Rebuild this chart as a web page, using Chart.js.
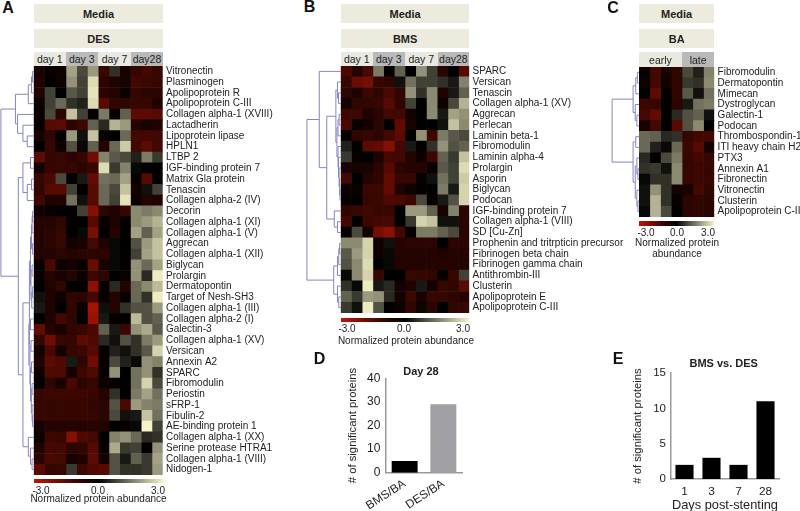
<!DOCTYPE html>
<html><head><meta charset="utf-8">
<script src="https://cdn.jsdelivr.net/npm/chart.js@4"></script>
<style>
html,body{margin:0;padding:0;background:#fff;width:800px;height:511px;overflow:hidden;font-family:"Liberation Sans",Arial,sans-serif;color:#222}
canvas{position:absolute}
.t{position:absolute;white-space:nowrap;transform:translate(-50%,-50%);line-height:1}
.b{position:absolute;display:flex;align-items:center;justify-content:center}
</style></head><body>
<script>
const labelsA=["Vitronectin","Plasminogen","Apolipoprotein R","Apolipoprotein C-III","Collagen alpha-1 (XVIII)","Lactadherin","Lipoprotein lipase","HPLN1","LTBP 2","IGF-binding protein 7","Matrix Gla protein","Tenascin","Collagen alpha-2 (IV)","Decorin","Collagen alpha-1 (XI)","Collagen alpha-1 (V)","Aggrecan","Collagen alpha-1 (XII)","Biglycan","Prolargin","Dermatopontin","Target of Nesh-SH3","Collagen alpha-1 (III)","Collagen alpha-2 (I)","Galectin-3","Collagen alpha-1 (XV)","Versican","Annexin A2","SPARC","Fibromodulin","Periostin","sFRP-1","Fibulin-2","AE-binding protein 1","Collagen alpha-1 (XX)","Serine protease HTRA1","Collagen alpha-1 (VIII)","Nidogen-1"];
const heatA=[
[-.5,-.2,-.3,2,.9,1.9,-1,.6,-.5,-1,-1.2,-1],
[-.6,0,-.3,1.8,.8,2.7,-.8,-.6,-.5,-1.2,-1.1,-1],
[-.6,.8,0,1.1,.8,2.8,-.8,-.7,-.3,-1,-.8,-.8],
[-.2,.8,1.3,.6,.4,2.7,-1.5,-.9,-.9,-1,-1,-.6],
[-.2,.9,-.8,2.4,.8,-.1,1.5,-.2,1.2,-1.6,-1.6,-1.5],
[-.1,-1.5,-1.6,-.8,-1.1,1.2,.5,2.2,1.9,-.7,-.5,-.6],
[-.5,-.9,-.1,1.9,.2,2.4,-.2,0,1.3,-1.2,-1.2,-1.2],
[0,-1,-.3,1,.1,1.2,-.7,1.3,2.5,-1.2,-1.6,-1.2],
[-1.6,-1,-1,-.8,-1,-1.9,1.6,1.1,.9,.4,1.5,.7],
[-.4,-1,-1,-1,-.8,-1,2.7,.7,1.6,.1,0,0],
[-1,-1.3,.9,-.1,.3,-1.7,1.4,1.3,2,-.2,-1.5,0],
[-.9,-1.5,-1.5,.8,-.1,-1.5,1.3,.9,2.4,-.4,.2,.8],
[-1.1,-.6,-.6,1.4,.2,-1.5,1.3,.8,2.8,-.3,-.7,-.6],
[-.3,-.2,0,-.1,.8,-2.2,-.8,-.6,-1,1.7,1.5,1.7],
[-.7,-.7,-.9,-.1,0,-1.5,-.2,-.6,-.1,1.7,1.9,2.2],
[-.7,-.8,-1,0,.1,-2,0,-.7,0,2,1.2,2],
[-.7,-.8,-1,-.4,-.5,-1.2,-.6,.1,0,1,1.9,2.4],
[-.7,-.7,-.8,-.7,-.8,-.8,-.8,.1,-.1,.8,2,2.4],
[-.2,-1.3,-.3,-.4,-.2,-1.8,-.5,.1,-.1,1.8,1.3,2],
[-.2,-.7,-.5,-.7,-.3,-1.1,-.8,0,-.2,1.8,.5,2.9],
[-.1,-.6,-.9,0,0,-2.3,-.2,.5,-.7,1.3,1.7,2.3],
[.2,-.6,-.3,-.9,-.8,-1.2,-.2,-.7,-.2,1.3,.6,2.9],
[.3,-.6,0,-.9,-.2,-2.6,.2,-.7,.6,1,1,1.9],
[0,-.6,-1.2,-.9,0,-2.5,.3,-.1,0,2.3,1,1.2],
[-1.7,-.7,-.5,-.9,-1,-1.3,1.2,.3,-1.1,1.8,2.1,1.1],
[-.9,-1.9,-1,-1,-1.6,-1.4,.5,.2,1,.6,1.5,1.9],
[-.4,-1.3,-.4,-1,-1.1,-1.5,-.1,.4,.2,.6,1.1,2.6],
[-.6,-1.6,-1.4,.3,-.9,-1.9,-.1,.9,.4,.1,1.8,1.6],
[-.3,-1.4,-1.4,-.4,-1.1,-1.4,-.2,1.8,0,1.4,1.8,.6],
[-.1,-.9,-.5,-1.3,-.8,-1,-.3,-.2,-.1,1.4,2.6,.9],
[-1,-1.1,-1.1,-1.1,-1.1,-1,-.7,.6,0,1.5,2,1.4],
[-1,-1,-1,-1,-1,-.9,-.8,1,-1.3,1.9,1.6,1.5],
[-1,-1,-1,-1,-1,-1,-.8,.9,.2,.3,2.4,1.4],
[-.5,-.7,-.7,-.7,-.7,-.7,-.7,0,-.2,.1,3,.8],
[-.3,-1.1,-1,-2.2,-1.4,-1.2,-.1,1.6,1.8,1.3,.5,.6],
[-.6,-1.2,-1.2,-.8,-.9,-1.5,-.2,2.1,.7,.8,-.1,1.8],
[-.8,-1.3,-1.2,-.5,-.6,-1.6,-.4,1,.3,1.2,.7,2],
[-1.5,-1,-1,.7,-1.1,-1.4,-1.5,1,.6,.6,.7,1.9]];
const treeA=[3.05,
 [1.7,[.5,[.2,[.1,0,1],2],3],[1.5,4,[1,5,[.6,6,7]]]],
 [1.43,[1,[.3,8,9],[.6,[.2,10,11],12]],
  [1,[.4,[.3,[.2,[.15,[.1,13,14],15],[.1,16,17]],[.25,[.15,18,19],[.18,[.1,20,21],22]]],
     [.45,[.3,23,24],[.35,[.25,25,26],[.3,[.2,27,28],[.22,[.15,29,30],[.15,31,[.1,32,33]]]]]]],
   [.5,34,[.3,35,[.15,36,37]]]]]];
const labelsB=["SPARC","Versican","Tenascin","Collagen alpha-1 (XV)","Aggrecan","Perlecan","Laminin beta-1","Fibromodulin","Laminin alpha-4","Prolargin","Asporin","Biglycan","Podocan","IGF-binding protein 7","Collagen alpha-1 (VIII)","SD [Cu-Zn]","Prophenin and tritrpticin precursor","Fibrinogen beta chain","Fibrinogen gamma chain","Antithrombin-III","Clusterin","Apolipoprotein E","Apolipoprotein C-III"];
const heatB=[
[-1.3,-.7,-1.3,1.5,0,1.2,0,1.8,.8,-.8,0,-1.5],
[-1,-1.8,-2,-1,-.9,.2,1.4,.8,.8,.6,.3,1.6],
[-.8,-.6,-1.1,-.9,-1.3,-.9,1.8,.6,1.7,-.6,.3,1.2],
[-.4,-.9,-.9,-1,-1.5,-.9,.8,0,1.7,-.3,.9,2.2],
[-1.1,-1.1,-.6,-.8,-1.2,-1.2,-.4,0,1.7,.3,2,1.8],
[-1.3,-.2,-.4,-.8,-.1,-1.7,-.5,-.1,0,.2,2.4,1.7],
[-.1,-.9,-1,-.8,-1.2,-1.6,0,1.8,-1.1,1.5,1.1,.9],
[.4,-.1,-1.6,-1.7,-2.2,-1.2,.3,-.1,.6,1.8,1,1.2],
[.7,-.2,0,-.6,-1.2,-1.2,-.7,-.3,-1.1,1.2,.7,2.4],
[-.5,-.5,-.5,-.8,-1.5,-.8,-.7,-.7,-.2,1.1,.8,2.7],
[-1.2,0,-.7,-.9,-1.7,-1,-1,-.2,.2,1.4,.8,2.5],
[-.3,-.2,-1.1,-1.1,-1.7,-.6,-.3,-.1,0,1.5,.3,2.6],
[-.2,-.1,-1,-1.1,-1.4,-1.3,-1.1,.9,-.2,.3,1,2.6],
[-.9,-1,-1.2,-1,-1,0,1.9,1.9,1.2,-.5,1.6,-.8],
[-1.2,-.1,-1.1,-1.2,-1.2,0,.7,2.6,2.4,.2,.2,-.8],
[0,.9,-.4,-2,-2.3,-1.2,-.1,1.5,1.5,1.2,.9,-.8],
[1.7,1.7,2.6,-.3,.2,-.7,-.8,-.8,-.8,0,-.8,-.8],
[1.1,1.9,2.6,-.3,.1,-.7,-.7,-.7,-.7,-.6,-.7,-.7],
[1,1.7,2.7,0,.1,-.7,-.7,-.7,-.7,-.7,-.7,-.7],
[.1,1.7,2.6,-1,0,0,-1,-1,-.9,-.2,-1,.8],
[.6,.1,2.9,.3,.5,-.4,-.6,.3,-.4,-1,-.9,-1.6],
[1.2,.7,1.9,1.8,.5,-.4,-1.1,-.5,-1,-1,-.8,-.7],
[.7,.2,2.9,1,0,-.3,-.9,-.3,-.8,-.1,-.9,-1]];
const treeB=[3.15,
 [2,0,[1.3,[.45,[.3,1,[.2,2,3]],[.35,[.25,[.15,4,5],6],[.25,7,[.2,8,[.15,9,[.1,10,[.06,11,12]]]]]]],[.6,13,[.3,14,15]]]],
 [.65,[.3,[.18,[.1,16,17],18],19],[.3,20,[.18,21,22]]]];
const labelsC=["Fibromodulin","Dermatopontin","Mimecan","Dystroglycan","Galectin-1","Podocan","Thrombospondin-1","ITI heavy chain H2","PTX3","Annexin A1","Fibronectin","Vitronectin","Clusterin","Apolipoprotein C-III"];
const heatC=[
[-.2,-1.2,-.5,-.9,.9,.4,1.6],
[-.3,-1.2,-.4,-.9,.7,.6,1.7],
[0,-1.6,-.1,-.9,1.1,.2,1.4],
[-1.1,-1,-.1,-.8,.3,1.4,1.5],
[-1.2,-1.7,-.1,.5,1,1.2,.2],
[-.5,-1.2,0,-1.5,1,1.7,0],
[1.3,1.2,.5,.6,-1,-1.2,-1.2],
[1.3,.4,.1,1.3,-1.1,-1.5,-.4],
[.5,0,.9,1.5,-1,-1.2,-1],
[.6,.7,.2,1.7,-1,-1.1,-1],
[.1,.6,.6,1.7,-1,-1.1,-1],
[.2,1.8,.6,-.4,-.5,-1.2,-.9],
[.2,2.2,.6,-.2,-.8,-.9,-.8],
[.1,2.2,.9,0,-.8,-.9,-.8]];
const treeC=[2.5,
 [.55,[.3,[.15,0,1],2],[.35,3,[.2,4,5]]],
 [.55,[.3,6,7],[.35,[.2,8,[.1,9,10]],[.2,11,[.1,12,13]]]]];
const catD=["BMS/BA","DES/BA"], valD=[5,29], tickStepD=10, maxD=40;
const catE=["1","3","7","28"], valE=[2,3,2,11], tickStepE=5, maxE=15;
const colNeg=[190,22,4], colPos=[245,243,200];

function heatColor(v){
  const c=v<0?colNeg:colPos, f=Math.min(1,Math.abs(v)/3), g=v<0?Math.pow(f,1.15):f;
  return `rgb(${c.map(x=>Math.round(x*g)).join(",")})`;
}
function addCanvas(l,t,w,h){
  const c=document.createElement("canvas");
  c.width=w;c.height=h;c.style.left=l+"px";c.style.top=t+"px";c.style.width=w+"px";c.style.height=h+"px";
  document.body.appendChild(c);return c.getContext("2d");
}
function txt(s,x,y,size,bold,color){
  const d=document.createElement("div");d.className="t";d.textContent=s;
  d.style.cssText=`left:${x}px;top:${y}px;font-size:${size}px;font-weight:${bold?"bold":"normal"};color:${color||"#222"}`;
  document.body.appendChild(d);
}
function band(x0,x1,y0,y1,bg,s,size,bold){
  const d=document.createElement("div");d.className="b";d.textContent=s;
  d.style.cssText=`left:${x0}px;top:${y0}px;width:${x1-x0}px;height:${y1-y0}px;background:${bg};font-size:${size}px;font-weight:${bold?"bold":"normal"}`;
  document.body.appendChild(d);
}
const dendroPlugin={id:"dendro",afterDatasetsDraw(chart,args,o){
  const {ctx,scales:{x,y}}=chart;
  const px=h=>x.getPixelForValue(0)-h*(x.getPixelForValue(1)-x.getPixelForValue(0));
  ctx.save();ctx.strokeStyle="#8585c4";ctx.lineWidth=1;
  const line=(a,b,c,d)=>{ctx.beginPath();ctx.moveTo(a,b);ctx.lineTo(c,d);ctx.stroke();};
  const walk=n=>{
    if(typeof n==="number")return{h:0,py:y.getPixelForValue(n)};
    const a=walk(n[1]),b=walk(n[2]),X=px(n[0]);
    line(X,a.py,X,b.py);line(X,a.py,px(a.h),a.py);line(X,b.py,px(b.h),b.py);
    return{h:n[0],py:(a.py+b.py)/2};
  };
  walk(o.tree);ctx.restore();
}};
function heatmap(cfg){
  const cols=cfg.heat[0].length;
  const datasets=[];
  for(let c=0;c<cols;c++)datasets.push({data:cfg.heat.map(()=>1),backgroundColor:cfg.heat.map(r=>heatColor(r[c])),borderWidth:0,barPercentage:1,categoryPercentage:1});
  new Chart(addCanvas(cfg.left,0,cfg.width,511),{type:"bar",plugins:[dendroPlugin],
    data:{labels:cfg.labels,datasets},
    options:{indexAxis:"y",responsive:false,animation:false,devicePixelRatio:1,
      layout:{padding:{left:cfg.x0-cfg.left,top:cfg.y0,bottom:511-cfg.y1,right:0}},
      plugins:{legend:{display:false},tooltip:{enabled:false},dendro:{tree:cfg.tree}},
      scales:{
        x:{display:false,stacked:true,min:0,max:cols},
        y:{stacked:true,position:"right",grid:{display:false,drawTicks:false,tickLength:0},border:{display:false},
           afterFit:s=>{s.width=cfg.left+cfg.width-cfg.x1;},
           ticks:{autoSkip:false,padding:3.3,font:{family:"Liberation Sans",size:cfg.fs},color:"#222"}}}}});
}
function barChart(cfg){
  const ax={display:false,drawTicks:true,tickLength:4,tickColor:"#999",tickWidth:1.5};
  new Chart(addCanvas(cfg.left,cfg.top,cfg.width,cfg.height),{type:"bar",
    data:{labels:cfg.cats,datasets:[{data:cfg.vals,backgroundColor:cfg.colors,borderWidth:0,barPercentage:.67,categoryPercentage:1}]},
    options:{responsive:false,animation:false,devicePixelRatio:1,
      layout:{padding:{left:0,top:cfg.y0-cfg.top,bottom:0,right:cfg.left+cfg.width-cfg.x1}},
      plugins:{legend:{display:false},tooltip:{enabled:false}},
      scales:{
        x:{grid:ax,border:{color:"#999",width:1.5},
           afterFit:s=>{s.height=cfg.top+cfg.height-cfg.y1;},
           title:cfg.xTitle?{display:true,text:cfg.xTitle,color:"#222",font:{family:"Liberation Sans",size:cfg.xtfs},padding:{top:2,bottom:0}}:{display:false},
           ticks:{color:"#222",padding:cfg.xPad,minRotation:cfg.rot,maxRotation:cfg.rot,font:{family:"Liberation Sans",size:cfg.xfs}}},
        y:{min:0,max:cfg.max,grid:ax,border:{color:"#999",width:1.5},
           afterFit:s=>{s.width=cfg.x0-cfg.left;},
           title:{display:true,text:"# of significant proteins",color:"#222",font:{family:"Liberation Sans",size:11.3},padding:{top:0,bottom:0}},
           ticks:{stepSize:cfg.step,color:"#222",padding:1,font:{family:"Liberation Sans",size:cfg.yfs}}}}}
  });
}
function colorbar(x0,x1,y0,y1,ticks,yt){
  const stops=[-3,-2,-1,0,1,2,3].map(heatColor).join(",");
  const d=document.createElement("div");
  d.style.cssText=`position:absolute;left:${x0}px;top:${y0}px;width:${x1-x0}px;height:${y1-y0}px;background:linear-gradient(to right,${stops})`;
  document.body.appendChild(d);
  ticks.forEach(([s,x])=>txt(s,x,yt,10));
}
const L="#ecebdd",D="#e9e9e2",G="#b9b9b9";
// Panel A
txt("A",8,8,16,true,"#111");
band(34,163,4,23,L,"Media",11,true);band(34,163,29,48,L,"DES",11,true);
band(34,65.5,52,66,D,"day 1",10.5);band(65.5,98,52,66,G,"day 3",10.5);band(98,131,52,66,D,"day 7",10.5);band(131,163,52,66,G,"day28",10.5);
heatmap({left:0,width:290,x0:33.7,x1:162.7,y0:66,y1:475,labels:labelsA,heat:heatA,tree:treeA,fs:10});
colorbar(33.7,162.7,478.5,483,[["-3.0",41],["0.0",98],["3.0",158]],491);
txt("Normalized protein abundance",98.5,499,10);
// Panel B
txt("B",309.5,7,16,true,"#111");
band(341,469.3,4,23,L,"Media",11,true);band(341,469.3,29,48,L,"BMS",11,true);
band(341,372.5,52,66,D,"day 1",10.5);band(372.5,405,52,66,G,"day 3",10.5);band(405,437.5,52,66,D,"day 7",10.5);band(437.5,469.3,52,66,G,"day28",10.5);
heatmap({left:300,width:330,x0:340.7,x1:469.3,y0:66,y1:313,labels:labelsB,heat:heatB,tree:treeB,fs:10});
colorbar(340.7,469.3,317.5,322,[["-3.0",347],["0.0",404],["3.0",463]],329);
txt("Normalized protein abundance",406,341,10);
// Panel C
txt("C",613,8,16,true,"#111");
band(639,714.3,4,23,L,"Media",11,true);band(639,714.3,29,48,L,"BA",11,true);
band(639,682,52,67,D,"early",10.5);band(682,714.3,52,67,G,"late",10.5);
heatmap({left:600,width:200,x0:639,x1:714.3,y0:67,y1:217,labels:labelsC,heat:heatC,tree:treeC,fs:10});
colorbar(639,714.3,221,226,[["-3.0",646],["0.0",677],["3.0",708]],233);
txt("Normalized protein",677,243,10);txt("abundance",677,254,10);
// Panel D
txt("D",319.5,359,16,true,"#111");
txt("Day 28",421,371,11,true);
barChart({left:346,top:362,width:130,height:149,x0:385.3,x1:462.7,y0:378.3,y1:472.7,cats:catD,vals:valD,colors:["#000","#a0a0a4"],
  rot:33,xPad:0,xfs:11.8,yfs:12,xtfs:11,max:maxD,step:tickStepD});
// Panel E
txt("E",618,359,16,true,"#111");
txt("BMS vs. DES",723.7,363,11,true);
barChart({left:631,top:356,width:160,height:157,x0:671,x1:779,y0:373,y1:479,cats:catE,vals:valE,colors:"#000",
  rot:0,xPad:2,xfs:11.8,yfs:11.5,xtfs:12.8,xTitle:"Days post-stenting",max:maxE,step:tickStepE});
</script>
</body></html>
